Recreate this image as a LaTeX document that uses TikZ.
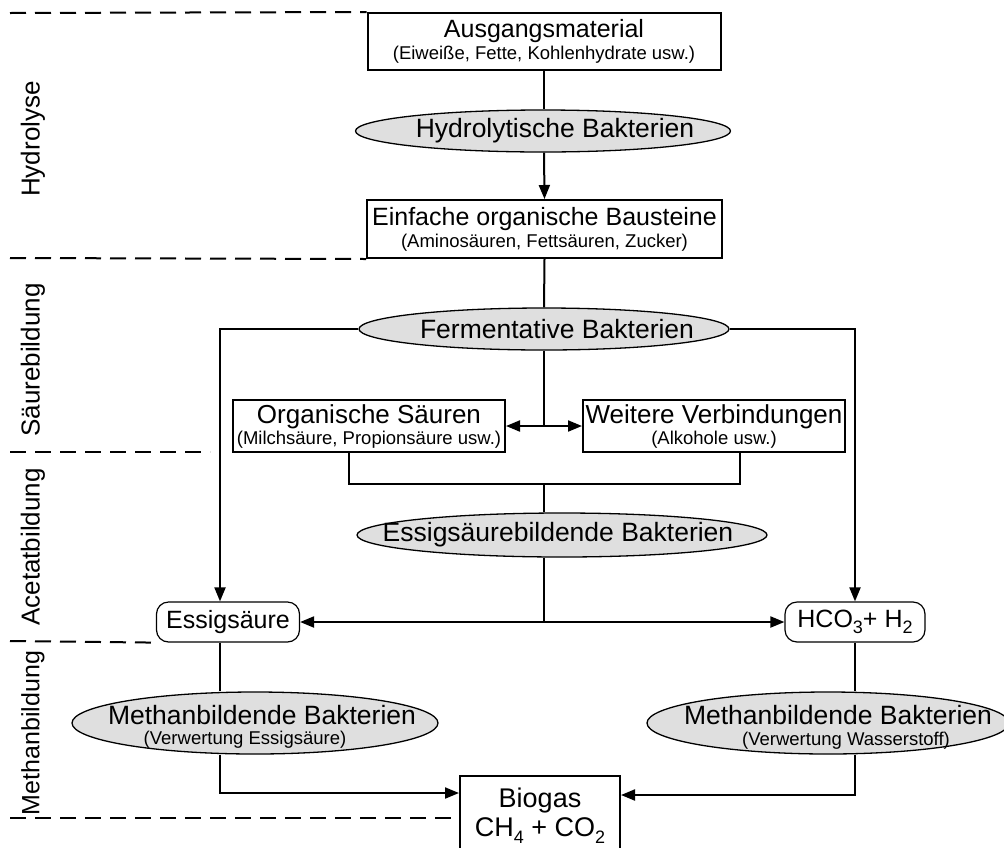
\documentclass[tikz,border=0pt]{standalone}
\usepackage{fontspec}
\setmainfont{Liberation Sans}
\usetikzlibrary{shapes.geometric,calc,arrows.meta}
\newcommand\mainsz{\fontsize{25}{25}\selectfont}
\newcommand\bigsz{\fontsize{26.5}{26.5}\selectfont}
\newcommand\labsz{\fontsize{26}{26}\selectfont}
\newcommand\subsz{\fontsize{18.5}{19}\selectfont}
\newcommand\chemsub[1]{\raisebox{-0.25em}{\fontsize{18}{18}\selectfont #1}}
\begin{document}
\begin{tikzpicture}[x=1pt,y=-1pt,
  box/.style={draw, line width=2pt, rectangle, align=center, font=\mainsz, inner sep=2pt},
  bact/.style={draw, line width=1.3pt, ellipse, fill=gray!25, inner sep=0pt},
  btext/.style={font=\bigsz, inner sep=0pt},
  bsub/.style={font=\subsz, inner sep=0pt},
  rbox/.style={draw, line width=1.2pt, rounded corners=12pt, rectangle, font=\mainsz, inner sep=0pt},
  conn/.style={line width=2pt},
  arr/.style={conn, -{Triangle[length=14pt,width=11pt]}},
  darr/.style={conn, {Triangle[length=14pt,width=11pt]}-{Triangle[length=14pt,width=11pt]}},
  sep/.style={line width=2pt, dash pattern=on 16pt off 9pt},
  phase/.style={rotate=90, font=\labsz}
]
\useasboundingbox (0,0) rectangle (1004,847);
\clip (0,0) rectangle (1004,847);

% boxes and ellipses
\node[box, minimum width=353pt, minimum height=57pt] (A) at (544,41.5)
  {Ausgangsmaterial\\[-3pt]{\subsz (Eiweiße, Fette, Kohlenhydrate usw.)}};
\node[bact, minimum width=375pt, minimum height=42pt] (H) at (543,131) {};
\node[btext] (Ht) at (555,131) {Hydrolytische Bakterien};
\node[box, minimum width=355pt, minimum height=58pt] (E) at (544.5,229)
  {Einfache organische Bausteine\\[-3pt]{\subsz (Aminosäuren, Fettsäuren, Zucker)}};
\node[bact, minimum width=370pt, minimum height=42pt] (F) at (544,329) {};
\node[btext] (Ft) at (557,329) {Fermentative Bakterien};
\node[box, minimum width=272pt, minimum height=52pt, inner sep=1pt, font=\fontsize{26}{26}\selectfont] (O) at (369,426)
  {Organische Säuren\\[-5pt]{\subsz (Milchsäure, Propionsäure usw.)}};
\node[box, minimum width=262pt, minimum height=52pt, font=\fontsize{26}{26}\selectfont] (W) at (714,426)
  {Weitere Verbindungen\\[-5pt]{\subsz (Alkohole usw.)}};
\coordinate (J) at (544,484);
\node[bact, minimum width=410pt, minimum height=44pt] (EB) at (562,535) {};
\node[btext] (EBt) at (558,535) {Essigsäurebildende Bakterien};
\node[rbox, minimum width=143pt, minimum height=40pt] (ES) at (228,622) {Essigsäure};
\node[rbox, minimum width=140pt, minimum height=40pt] (HC) at (855,622) {HCO\chemsub{3}+ H\chemsub{2}};
\node[bact, minimum width=366pt, minimum height=62pt] (M1) at (255,723) {};
\node[btext] (M1t) at (262,715) {Methanbildende Bakterien};
\node[bsub] (M1s) at (245,740) {(Verwertung Essigsäure)};
\node[bact, minimum width=362pt, minimum height=62pt] (M2) at (828,723) {};
\node[btext] (M2t) at (838,715) {Methanbildende Bakterien};
\node[bsub] (M2s) at (846,741) {(Verwertung Wasserstoff)};
\node[box, minimum width=160pt, minimum height=80pt, anchor=north, font=\fontsize{27}{29}\selectfont] (BG) at (540,775)
  {Biogas\\CH\chemsub{4} + CO\chemsub{2}};

% phase labels
\node[phase] (p1) at (33,139) {Hydrolyse};
\node[phase] (p2) at (33,360) {Säurebildung};
\node[phase] (p3) at (33,547) {Acetatbildung};
\node[phase, font=\fontsize{25}{25}\selectfont] (p4) at (33,733) {Methanbildung};

% separators
\draw[sep] (10,13) -- (A.north west);
\draw[sep] (10,258) -- (E.south west);
\draw[sep] (10,452) -- (210,452);
\draw[sep] (10,641) -- (ES.south west);
\draw[sep] (10,818) -- (460,818);

% connectors
\draw[conn] (A.south) -- (A.south |- H.north);
\draw[arr] (A.south |- H.south) -- (E.north);
\draw[conn] (E.south) -- (F.north);
\draw[arr] (F.west) -| ([xshift=-8pt]ES.north);
\draw[arr] (F.east) -| (HC.north);
\draw[conn] (F.south) -- (F.south |- O.east);
\draw[darr] (O.east) -- (W.west);
\draw[conn] ([xshift=-20pt]O.south) |- (J) -| ([xshift=26pt]W.south);
\draw[conn] (J) -- (J |- EB.north);
\draw[conn] (J |- EB.south) -- (J |- ES.east);
\draw[darr] (ES.east) -- (HC.west);
\draw[conn] ([xshift=-8pt]ES.south) -- ([xshift=-8pt]ES.south |- M1.north);
\draw[arr] ([xshift=-8pt]ES.south |- M1.south) |- ([yshift=-18pt]BG.north west);
\draw[conn] (HC.south) -- (HC.south |- M2.north);
\draw[arr] (HC.south |- M2.south) |- ([yshift=-20pt]BG.north east);
\end{tikzpicture}
\end{document}
